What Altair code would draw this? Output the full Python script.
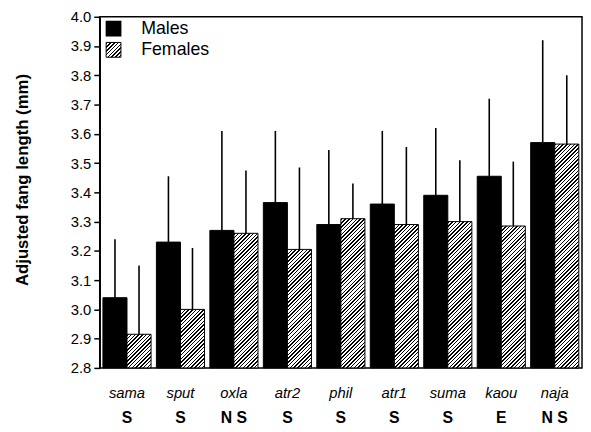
import altair as alt
import pandas as pd

categories = ["sama", "sput", "oxla", "atr2", "phil", "atr1", "suma", "kaou", "naja"]
significance = ["S", "S", "N S", "S", "S", "S", "S", "E", "N S"]
sexes = ["Males", "Females"]
male_mean = [3.04, 3.23, 3.27, 3.365, 3.29, 3.36, 3.39, 3.455, 3.57]
male_upper = [3.24, 3.455, 3.61, 3.61, 3.545, 3.61, 3.62, 3.72, 3.92]
female_mean = [2.915, 3.00, 3.26, 3.205, 3.31, 3.29, 3.30, 3.285, 3.565]
female_upper = [3.15, 3.21, 3.475, 3.485, 3.43, 3.555, 3.51, 3.505, 3.80]
y_ticks = [2.8, 2.9, 3.0, 3.1, 3.2, 3.3, 3.4, 3.5, 3.6, 3.7, 3.8, 3.9, 4.0]

W, H = 489, 356
Y0, Y1 = 2.8, 4.0
PI, PO = 0.1, 0.06
FONT = "Liberation Sans"

rows = []
for i, c in enumerate(categories):
    rows.append({"cat": c, "sex": "Males", "val": male_mean[i], "up": male_upper[i]})
    rows.append({"cat": c, "sex": "Females", "val": female_mean[i], "up": female_upper[i]})
df = pd.DataFrame(rows)
sig_df = pd.DataFrame({"cat": categories, "sig": significance})

step = W / (len(categories) - PI + 2 * PO)
bar_w = step * (1 - PI) / 2


def hatch(w, h, period=3.8, lw=1.5):
    L = (w * w + h * h) / (w + h)
    total = w + h
    stops = [{"offset": 0, "color": "white"}]
    pos = 0.5
    while pos < total:
        a = round(pos / total, 5)
        b = round(min((pos + lw) / total, 1), 5)
        stops += [
            {"offset": a, "color": "white"},
            {"offset": a, "color": "black"},
            {"offset": b, "color": "black"},
            {"offset": b, "color": "white"},
        ]
        pos += period
    stops.append({"offset": 1, "color": "white"})
    return alt.LinearGradient(gradient="linear", x1=0, y1=0, x2=w / L, y2=h / L, stops=stops)


x_enc = alt.X(
    "cat:N",
    sort=categories,
    scale=alt.Scale(domain=categories, paddingInner=PI, paddingOuter=PO),
    axis=alt.Axis(
        title=None, ticks=False, tickSize=0, domain=False, labelAngle=0,
        labelFont=FONT, labelFontStyle="italic", labelFontSize=15, labelColor="black",
        labelBaseline="middle", labelPadding=25,
    ),
)
xo_enc = alt.XOffset("sex:N", sort=sexes, scale=alt.Scale(domain=sexes))
y_scale = alt.Scale(domain=[Y0, Y1], nice=False, zero=False)
y_enc = alt.Y(
    "val:Q",
    scale=y_scale,
    axis=alt.Axis(
        title="Adjusted fang length (mm)", values=y_ticks, format=".1f", grid=False,
        tickSize=6, tickWidth=1.5, tickColor="black", domainColor="black", domainWidth=1.5,
        labelFont=FONT, labelFontSize=15, labelColor="black", labelPadding=3,
        titleFont=FONT, titleFontSize=17, titleFontWeight="bold", titleColor="black",
        titleX=-73, titleY=165, titleBaseline="alphabetic", titleAngle=270,
    ),
)
y2_base = alt.Y2(datum=Y0)

base = alt.Chart(df)

male_bars = base.transform_filter(alt.datum.sex == "Males").mark_bar(
    color="black", stroke="black", strokeWidth=1
).encode(x=x_enc, xOffset=xo_enc, y=y_enc, y2=y2_base)

female_layers = []
for i, c in enumerate(categories):
    h = (female_mean[i] - Y0) / (Y1 - Y0) * H
    female_layers.append(
        base.transform_filter((alt.datum.sex == "Females") & (alt.datum.cat == c)).mark_bar(
            fill=hatch(bar_w, h), stroke="black", strokeWidth=1
        ).encode(x=x_enc, xOffset=xo_enc, y=y_enc, y2=y2_base)
    )

errors = base.mark_rule(color="black", strokeWidth=1.6).encode(
    x=x_enc, xOffset=xo_enc, y=y_enc, y2="up:Q"
)

sig_text = alt.Chart(sig_df).mark_text(
    font=FONT, fontSize=16, fontWeight="bold", color="black", baseline="middle"
).encode(x=alt.X("cat:N", sort=categories), y=alt.value(407), text="sig:N")

one = alt.Data(values=[{"k": 1}])
leg_m = alt.Chart(one).mark_rect(color="black").encode(
    x=alt.value(6), x2=alt.value(22), y=alt.value(4), y2=alt.value(20)
)
leg_f = alt.Chart(one).mark_rect(fill=hatch(15, 15), stroke="black", strokeWidth=1).encode(
    x=alt.value(6.5), x2=alt.value(21.5), y=alt.value(26), y2=alt.value(41)
)
leg_tm = alt.Chart(one).mark_text(
    font=FONT, fontSize=18, align="left", baseline="middle", color="black"
).encode(x=alt.value(42), y=alt.value(12), text=alt.value(sexes[0]))
leg_tf = alt.Chart(one).mark_text(
    font=FONT, fontSize=18, align="left", baseline="middle", color="black"
).encode(x=alt.value(42), y=alt.value(34), text=alt.value(sexes[1]))

chart = alt.layer(
    male_bars, *female_layers, errors, sig_text, leg_m, leg_f, leg_tm, leg_tf
).properties(
    width=W, height=H,
    autosize=alt.AutoSizeParams(type="none"),
    padding={"left": 93, "top": 6, "right": 1, "bottom": 58},
    background="white",
).configure_view(stroke="black", strokeWidth=1.5)

chart.save("out.html", embed_options={"renderer": "svg", "actions": False})
